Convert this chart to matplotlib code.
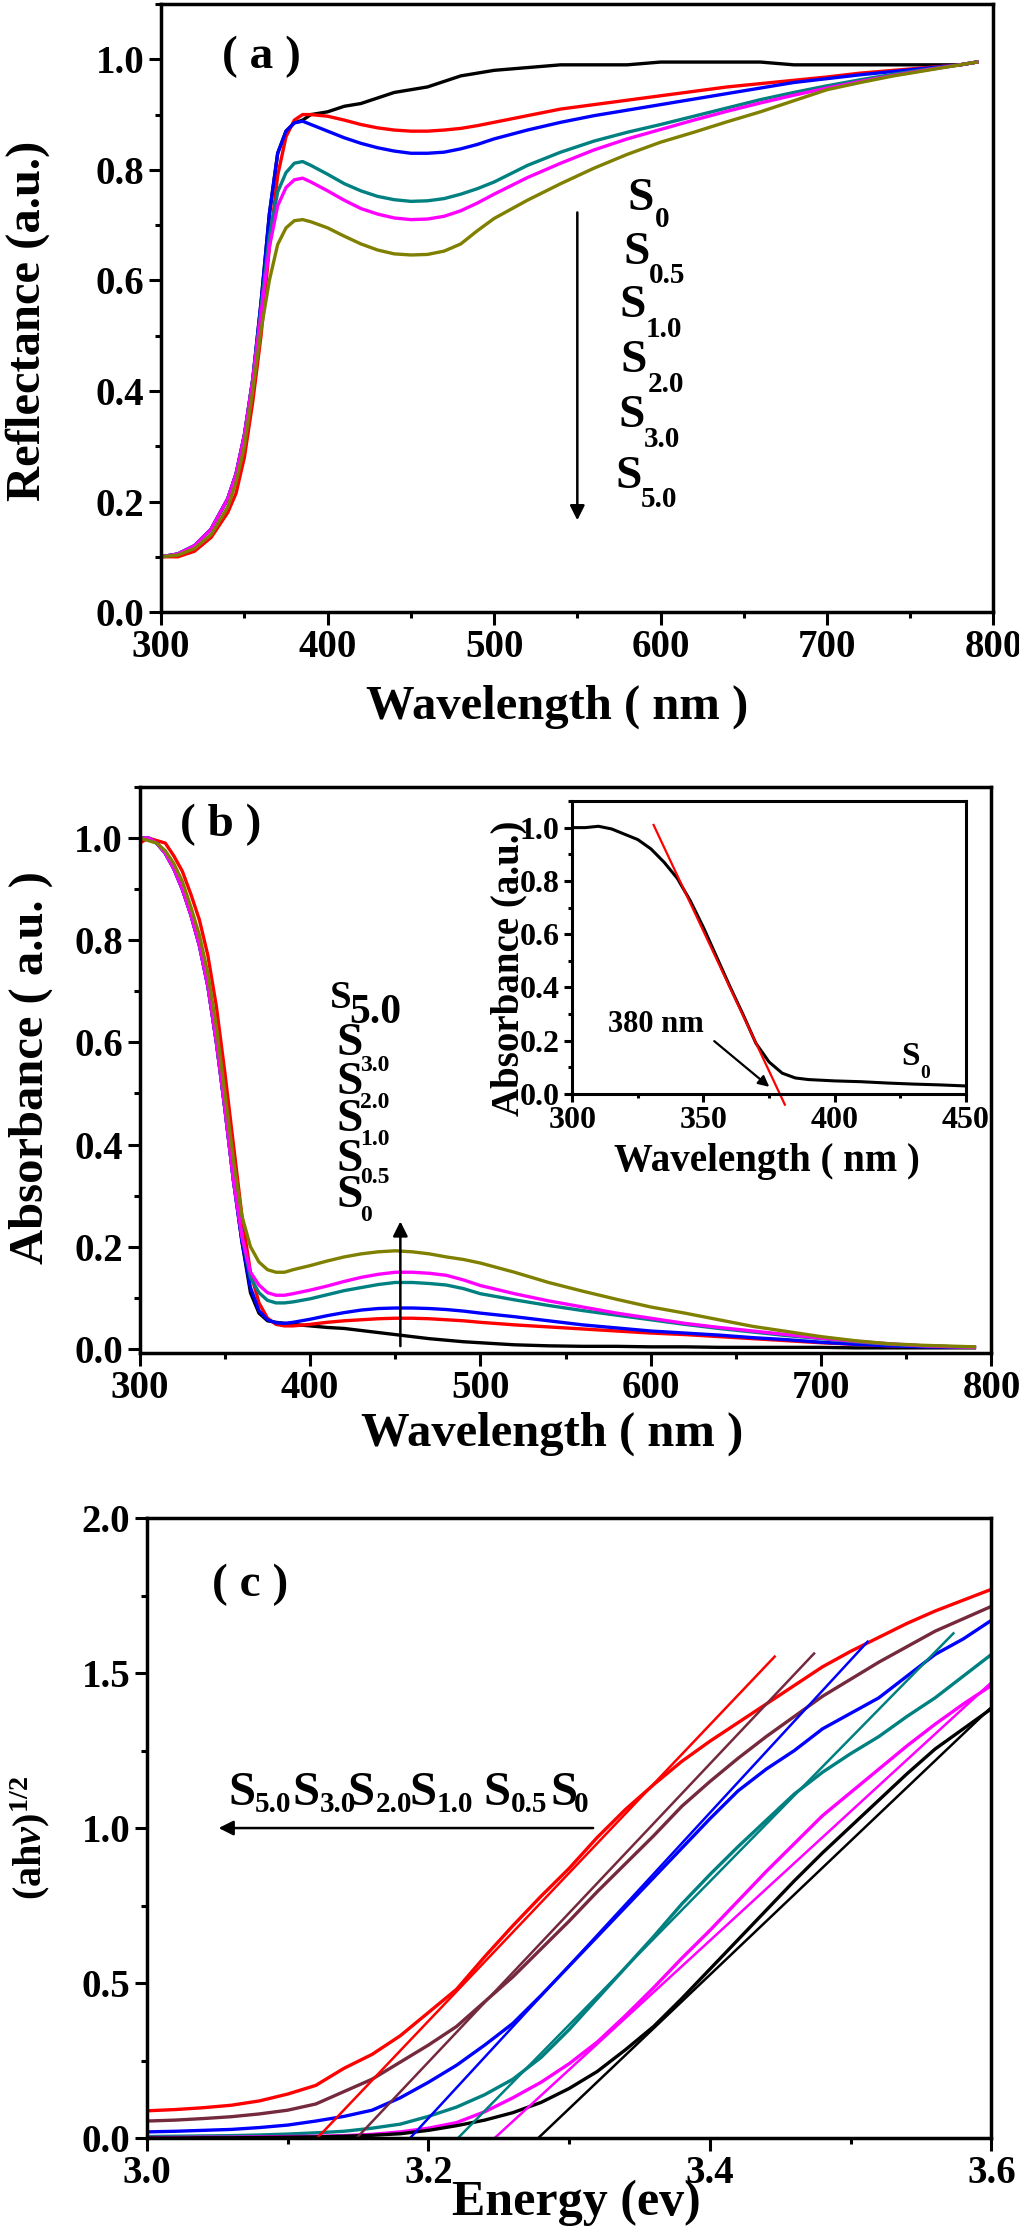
import matplotlib
matplotlib.use("Agg")
import matplotlib.pyplot as plt
from matplotlib.ticker import MultipleLocator

plt.rcParams['font.family'] = ['Liberation Serif', 'DejaVu Serif']
plt.rcParams['font.weight'] = 'bold'
plt.rcParams['mathtext.fontset'] = 'custom'
plt.rcParams['mathtext.rm'] = 'Liberation Serif:bold'
plt.rcParams['mathtext.bf'] = 'Liberation Serif:bold'
plt.rcParams['mathtext.it'] = 'Liberation Serif:bold:italic'

# ---------------- data: panel (a) reflectance ----------------
samples = ['0', '0.5', '1.0', '2.0', '3.0', '5.0']
wl_a = [300, 310, 320, 330, 340, 345, 350, 355, 360, 365, 370, 375, 380, 385, 390,
        400, 410, 420, 430, 440, 450, 460, 470, 480, 490, 500, 520, 540, 560, 580,
        600, 620, 640, 660, 680, 700, 720, 740, 760, 780, 790]
refl_S0 = [.100, .105, .120, .150, .205, .250, .320, .420, .560, .720, .830, .870, .885, .890, .900,
           .905, .915, .920, .930, .940, .945, .950, .960, .970, .975, .980, .985, .990, .990, .990,
           .995, .995, .995, .995, .990, .990, .990, .990, .990, .990, .995]
refl_S05 = [.100, .100, .110, .135, .180, .215, .280, .380, .500, .660, .790, .860, .890, .900, .900,
            .897, .890, .882, .876, .872, .870, .870, .872, .875, .880, .886, .898, .910, .918, .926,
            .934, .942, .950, .956, .962, .968, .975, .980, .985, .990, .995]
refl_S10 = [.100, .105, .120, .150, .205, .250, .320, .420, .560, .720, .830, .870, .885, .888, .882,
            .870, .858, .848, .840, .834, .830, .830, .832, .838, .846, .856, .872, .886, .898, .908,
            .918, .928, .938, .948, .958, .965, .972, .978, .984, .990, .995]
refl_S20 = [.100, .105, .120, .150, .205, .250, .320, .420, .550, .680, .760, .795, .812, .815, .808,
            .792, .775, .762, .752, .746, .743, .744, .748, .756, .766, .778, .808, .832, .852, .868,
            .882, .897, .912, .927, .940, .952, .963, .973, .982, .990, .995]
refl_S30 = [.100, .105, .120, .150, .205, .250, .320, .420, .540, .660, .735, .768, .782, .785, .778,
            .762, .745, .730, .720, .713, .710, .711, .716, .726, .740, .756, .786, .812, .836, .856,
            .873, .890, .906, .921, .935, .948, .960, .971, .981, .990, .995]
refl_S50 = [.100, .103, .115, .140, .190, .235, .300, .400, .510, .600, .665, .695, .708, .710, .706,
            .695, .680, .666, .655, .648, .646, .647, .653, .666, .690, .712, .745, .775, .803, .828,
            .850, .868, .887, .905, .925, .945, .958, .970, .980, .990, .995]

# ---------------- data: panel (b) absorbance ----------------
wl_b = [300, 305, 310, 315, 320, 325, 330, 335, 340, 345, 350, 355, 360, 365, 370, 375, 380,
        385, 390, 400, 410, 420, 430, 440, 450, 460, 470, 480, 490, 500, 520, 540, 560, 580,
        600, 620, 640, 660, 680, 700, 720, 740, 760, 790]
abs_S0 = [1.0, 1.0, .99, .97, .94, .90, .85, .79, .71, .60, .47, .33, .21, .11, .07, .055, .052,
          .050, .048, .045, .042, .040, .036, .032, .028, .024, .020, .017, .014, .012, .008, .006, .005, .005,
          .004, .004, .003, .003, .003, .003, .002, .002, .002, .002]
abs_S05 = [.99, 1.0, .995, .99, .965, .935, .89, .84, .77, .67, .54, .40, .26, .15, .09, .06, .048,
           .045, .045, .048, .052, .055, .057, .059, .060, .060, .059, .057, .055, .052, .047, .043, .039, .035,
           .031, .028, .024, .020, .016, .012, .009, .006, .005, .003]
abs_S10 = [1.0, 1.0, .99, .97, .94, .90, .85, .79, .71, .60, .47, .33, .21, .12, .075, .057, .051,
           .050, .052, .058, .065, .071, .076, .079, .080, .080, .079, .077, .074, .070, .063, .055, .047, .041,
           .035, .031, .027, .022, .018, .013, .009, .006, .004, .003]
abs_S20 = [1.0, 1.0, .99, .97, .94, .90, .85, .79, .71, .60, .47, .33, .22, .14, .11, .095, .090,
           .090, .092, .098, .106, .114, .120, .126, .130, .130, .128, .125, .118, .108, .096, .085, .075, .066,
           .057, .048, .040, .033, .026, .020, .014, .009, .006, .003]
abs_S30 = [1.0, 1.0, .99, .97, .94, .90, .85, .79, .71, .60, .47, .33, .22, .15, .125, .11, .105,
           .105, .108, .115, .123, .132, .140, .146, .150, .150, .148, .144, .135, .124, .108, .094, .082, .070,
           .060, .050, .042, .035, .028, .021, .015, .010, .006, .003]
abs_S50 = [1.0, .995, .99, .975, .95, .915, .865, .81, .735, .63, .50, .37, .26, .20, .17, .155, .150,
           .150, .155, .163, .172, .180, .186, .190, .192, .190, .186, .180, .175, .168, .150, .130, .113, .097,
           .082, .070, .057, .044, .034, .024, .016, .010, .007, .004]

# inset (S0 absorbance edge)
wl_in = [300, 305, 310, 315, 320, 325, 330, 335, 340, 345, 350, 355, 360, 365, 370, 375, 380,
         385, 390, 400, 410, 420, 430, 440, 450]
abs_in = [1.0, 1.0, 1.005, .995, .975, .955, .92, .87, .81, .725, .625, .515, .405, .30, .19, .12, .078,
          .060, .054, .049, .046, .041, .037, .034, .030]
tangent_in_x = [331, 381]
tangent_in_y = [1.01, -0.04]

# ---------------- data: panel (c) Tauc plot ----------------
e_c = [3.00, 3.02, 3.04, 3.06, 3.08, 3.10, 3.12, 3.14, 3.16, 3.18, 3.20, 3.22, 3.24, 3.26, 3.28,
       3.30, 3.32, 3.34, 3.36, 3.38, 3.40, 3.42, 3.44, 3.46, 3.48, 3.50, 3.52, 3.54, 3.56, 3.58, 3.60]
tauc_S50 = [.088, .092, .098, .106, .12, .142, .17, .225, .27, .33, .405, .48, .585, .685, .78,
            .87, .97, 1.06, 1.14, 1.215, 1.28, 1.34, 1.40, 1.46, 1.52, 1.57, 1.615, 1.66, 1.70, 1.735, 1.77]
tauc_S30 = [.055, .058, .063, .069, .078, .09, .11, .15, .19, .245, .30, .36, .44, .52, .61,
            .70, .795, .885, .975, 1.07, 1.15, 1.225, 1.295, 1.36, 1.425, 1.48, 1.535, 1.585, 1.635, 1.675, 1.715]
tauc_S20 = [.02, .022, .025, .028, .034, .042, .055, .07, .09, .13, .18, .235, .30, .37, .46,
            .555, .65, .745, .84, .935, 1.03, 1.12, 1.19, 1.25, 1.32, 1.37, 1.42, 1.49, 1.56, 1.61, 1.67]
tauc_S10 = [.005, .006, .007, .008, .01, .013, .017, .022, .032, .045, .07, .10, .14, .19, .26,
            .35, .45, .55, .65, .755, .85, .94, 1.025, 1.11, 1.18, 1.24, 1.295, 1.36, 1.42, 1.49, 1.56]
tauc_S05 = [.002, .002, .003, .003, .004, .005, .006, .008, .012, .02, .032, .05, .085, .13, .18,
            .24, .31, .395, .485, .58, .67, .765, .86, .95, 1.04, 1.115, 1.19, 1.265, 1.335, 1.40, 1.46]
tauc_S0 = [0, 0, .001, .001, .002, .003, .004, .006, .009, .014, .025, .04, .058, .082, .115,
           .16, .215, .285, .36, .45, .545, .64, .735, .83, .92, 1.005, 1.09, 1.175, 1.255, 1.32, 1.385]
# linear fits (start energy at y=0, end point)
fit_E0 = [3.121, 3.149, 3.187, 3.221, 3.247, 3.278]
fit_E1 = [3.446, 3.474, 3.512, 3.573, 3.600, 3.600]
fit_y1 = [1.553, 1.563, 1.601, 1.628, 1.470, 1.390]

# ---------------- styling ----------------
col_ab = ['black', 'red', 'blue', '#008080', '#ff00ff', '#808000']
col_c = ['red', '#75293d', 'blue', '#008080', '#ff00ff', 'black']

fig = plt.figure(figsize=(10.2, 22.33), dpi=100)


def style(ax, xmaj, xmin, ymaj, ymin, lsize=28, mlen=9, spw=2.5):
    for s in ax.spines.values():
        s.set_linewidth(spw)
    ax.xaxis.set_major_locator(MultipleLocator(xmaj))
    ax.xaxis.set_minor_locator(MultipleLocator(xmin))
    ax.yaxis.set_major_locator(MultipleLocator(ymaj))
    ax.yaxis.set_minor_locator(MultipleLocator(ymin))
    ax.tick_params(which='major', direction='out', length=mlen, width=2.2,
                   labelsize=lsize, pad=3)
    ax.tick_params(which='minor', direction='out', length=mlen * 0.5, width=2.2)
    for t in ax.get_xticklabels() + ax.get_yticklabels():
        t.set_fontweight('bold')


# ---------------- panel (a) ----------------
axa = fig.add_axes([0.158, 0.7259, 0.816, 0.2723])
for y, c in zip([refl_S0, refl_S05, refl_S10, refl_S20, refl_S30, refl_S50], col_ab):
    axa.plot(wl_a, y, color=c, lw=2.4)
axa.set_xlim(300, 800)
axa.set_ylim(0, 1.1)
style(axa, 100, 50, 0.2, 0.1)
axa.set_xlabel('Wavelength ( nm )', fontsize=35, fontweight='bold')
axa.xaxis.set_label_coords(0.476, -0.155)
axa.xaxis.label.set_va('center')
axa.set_ylabel('Reflectance (a.u.)', fontsize=35, fontweight='bold')
axa.yaxis.set_label_coords(-0.16, 0.479)
axa.yaxis.label.set_va('center')
axa.text(336.7, 1.005, '( a )', fontsize=34, fontweight='bold', va='center', ha='left')
axa.annotate('', xy=(550, 0.161), xytext=(550, 0.728),
             arrowprops=dict(arrowstyle='-|>', lw=1.8, color='black', mutation_scale=22))
sa_x = [580.0, 577.6, 575.2, 575.8, 574.6, 572.8]
sa_y = [0.728, 0.629, 0.533, 0.435, 0.335, 0.225]
na_x = [596.3, 592.7, 590.9, 592.1, 589.7, 587.9]
na_y = [0.696, 0.596, 0.498, 0.399, 0.299, 0.190]
for lab, sx, sy, nx, ny in zip(samples, sa_x, sa_y, na_x, na_y):
    axa.text(sx, sy, 'S', fontsize=34, fontweight='bold', va='baseline', ha='left')
    axa.text(nx, ny, lab, fontsize=21, fontweight='bold', va='baseline', ha='left')

# ---------------- panel (b) ----------------
axb = fig.add_axes([0.137, 0.3941, 0.835, 0.2535])
for y, c in zip([abs_S0, abs_S05, abs_S10, abs_S20, abs_S30, abs_S50], col_ab):
    axb.plot(wl_b, y, color=c, lw=2.4)
axb.set_xlim(300, 800)
axb.set_ylim(-0.008, 1.1)
style(axb, 100, 50, 0.2, 0.1)
axb.set_xlabel('Wavelength ( nm )', fontsize=35, fontweight='bold')
axb.xaxis.set_label_coords(0.484, -0.143)
axb.xaxis.label.set_va('center')
axb.set_ylabel('Absorbance ( a.u. )', fontsize=35, fontweight='bold')
axb.yaxis.set_label_coords(-0.128, 0.505)
axb.yaxis.label.set_va('center')
axb.text(323.5, 1.025, '( b )', fontsize=34, fontweight='bold', va='center', ha='left')
axb.annotate('', xy=(453, 0.255), xytext=(453, 0.0),
             arrowprops=dict(arrowstyle='-|>', lw=1.8, color='black', mutation_scale=22))
# stacked labels
axb.text(411.5, 0.667, 'S', fontsize=28, fontweight='bold', va='baseline', ha='left')
axb.text(423.2, 0.637, '5.0', fontsize=30, fontweight='bold', va='baseline', ha='left')
sb_y = [0.575, 0.498, 0.427, 0.349, 0.278]
nb_y = [0.543, 0.471, 0.400, 0.324, 0.251]
for lab, sy, ny in zip(['3.0', '2.0', '1.0', '0.5', '0'], sb_y, nb_y):
    axb.text(415.6, sy, 'S', fontsize=34, fontweight='bold', va='baseline', ha='left')
    axb.text(429.1, ny, lab, fontsize=17, fontweight='bold', va='baseline', ha='left')

# inset
axi = fig.add_axes([0.561, 0.5101, 0.386, 0.1312])
axi.plot(wl_in, abs_in, color='black', lw=2.2)
axi.plot(tangent_in_x, tangent_in_y, color='red', lw=1.6, clip_on=False)
axi.set_xlim(300, 450)
axi.set_ylim(0, 1.1)
style(axi, 50, 25, 0.2, 0.1, lsize=23, mlen=6, spw=2.2)
axi.set_xlabel('Wavelength ( nm )', fontsize=28, fontweight='bold')
axi.xaxis.set_label_coords(0.495, -0.23)
axi.xaxis.label.set_va('center')
axi.set_ylabel('Absorbance (a.u.)', fontsize=28, fontweight='bold')
axi.yaxis.set_label_coords(-0.16, 0.43)
axi.yaxis.label.set_va('center')
axi.text(313.8, 0.26, '380 nm', fontsize=22, fontweight='bold', va='center', ha='left')
axi.annotate('', xy=(375.9, 0.02), xytext=(353.3, 0.205),
             arrowprops=dict(arrowstyle='-|>', lw=1.6, color='black', mutation_scale=16))
axi.text(425.5, 0.11, 'S', fontsize=24, fontweight='bold', va='baseline', ha='left')
axi.text(432.5, 0.06, '0', fontsize=14, fontweight='bold', va='baseline', ha='left')

# ---------------- panel (c) ----------------
axc = fig.add_axes([0.144, 0.0425, 0.828, 0.2777])
for y, c in zip([tauc_S50, tauc_S30, tauc_S20, tauc_S10, tauc_S05, tauc_S0], col_c):
    axc.plot(e_c, y, color=c, lw=2.4)
for e0, e1, y1, c in zip(fit_E0, fit_E1, fit_y1, col_c):
    axc.plot([e0, e1], [0, y1], color=c, lw=1.8)
axc.set_xlim(3.0, 3.6)
axc.set_ylim(0, 2.0)
style(axc, 0.2, 0.1, 0.5, 0.25)
axc.set_xlabel('Energy (ev)', fontsize=36, fontweight='bold')
axc.xaxis.set_label_coords(0.509, -0.105)
axc.xaxis.label.set_va('center')
axc.set_ylabel(r'(ah$\nu$)$^{1/2}$', fontsize=29, fontweight='bold')
axc.yaxis.set_label_coords(-0.138, 0.484)
axc.yaxis.label.set_va('center')
axc.text(3.046, 1.784, '( c )', fontsize=34, fontweight='bold', va='center', ha='left')
axc.annotate('', xy=(3.049, 1.0), xytext=(3.319, 1.0),
             arrowprops=dict(arrowstyle='-|>', lw=1.8, color='black', mutation_scale=22))
sc_x = [3.0582, 3.1037, 3.1427, 3.1867, 3.2393, 3.2869]
nc_x = [3.0767, 3.1228, 3.1626, 3.2059, 3.2585, 3.3032]
for lab, sx, nx in zip(['5.0', '3.0', '2.0', '1.0', '0.5', '0'], sc_x, nc_x):
    axc.text(sx, 1.074, 'S', fontsize=35, fontweight='bold', va='baseline', ha='left')
    axc.text(nx, 1.052, lab, fontsize=21, fontweight='bold', va='baseline', ha='left')

fig.savefig('out.png', dpi=100)
